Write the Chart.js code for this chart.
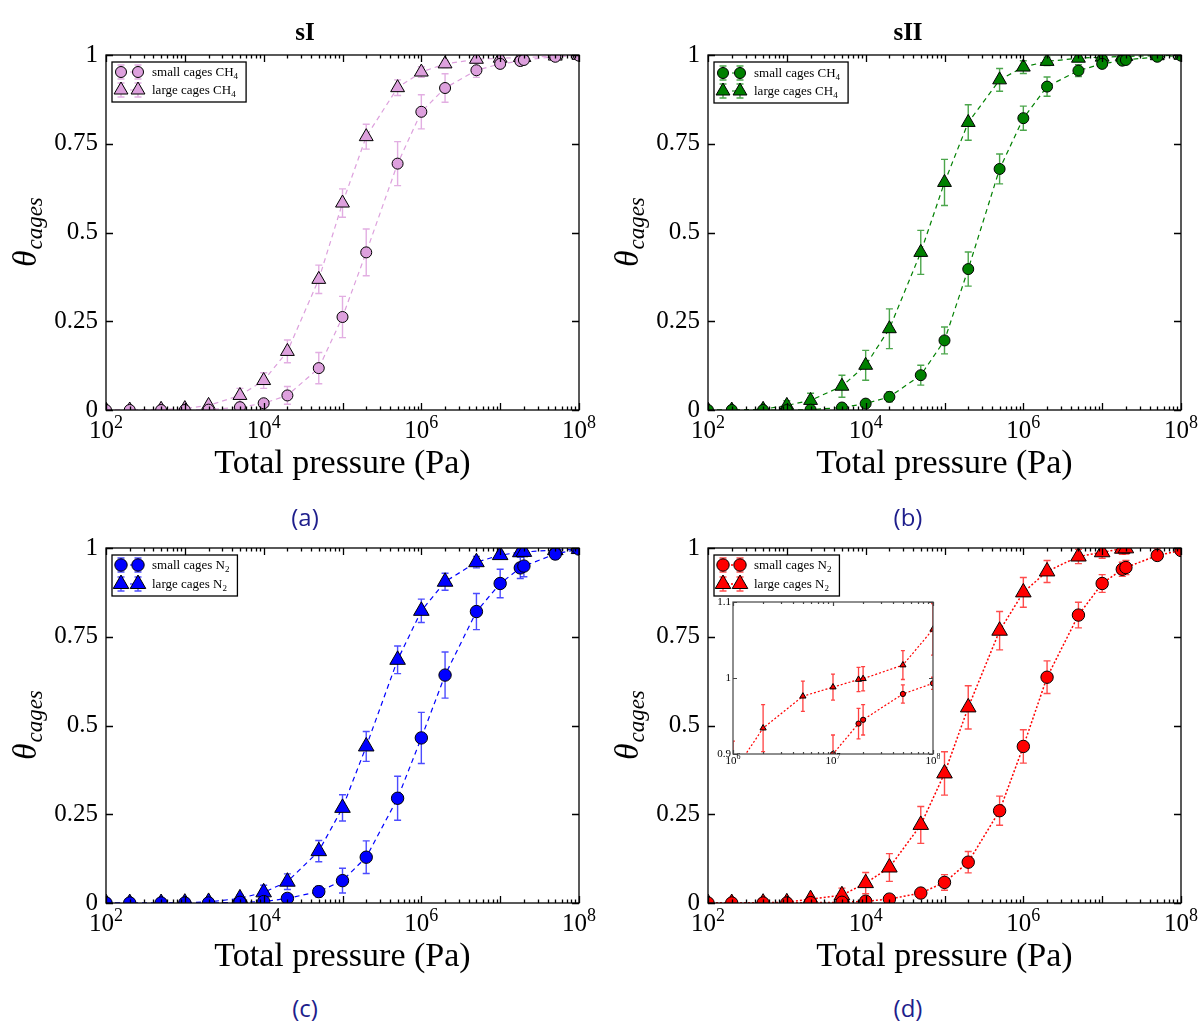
<!DOCTYPE html>
<html>
<head>
<meta charset="utf-8">
<title>Cage occupancy vs total pressure</title>
<script src="https://cdn.jsdelivr.net/npm/chart.js"></script>
<style>
  body { margin: 0; background: #fff; }
  #fig { position: relative; width: 1201px; height: 1021px; background: #fff; overflow: hidden; }
  #fig canvas { position: absolute; }
  .title { position: absolute; font: bold 25px "Liberation Serif", serif; color: #000; transform: translate(-50%, -50%); white-space: nowrap; }
  .caption { position: absolute; font: 24px "Open Sans", sans-serif; color: #1e1e8c; transform: translate(-50%, -50%); white-space: nowrap; }
</style>
</head>
<body>
<div id="fig">
  <canvas id="chartA" width="600" height="490" style="left:0;top:0"></canvas>
  <canvas id="chartB" width="600" height="490" style="left:602px;top:0"></canvas>
  <canvas id="chartC" width="600" height="490" style="left:0;top:493px"></canvas>
  <canvas id="chartD" width="600" height="490" style="left:602px;top:493px"></canvas>
  <canvas id="chartInset" width="240" height="180" style="left:700px;top:590px"></canvas>
  <div class="title" style="left:305px;top:32px">sI</div>
  <div class="title" style="left:908px;top:32px">sII</div>
  <div class="caption" style="left:305px;top:516px">(a)</div>
  <div class="caption" style="left:908px;top:516px">(b)</div>
  <div class="caption" style="left:305px;top:1007px">(c)</div>
  <div class="caption" style="left:908px;top:1007px">(d)</div>
</div>
<script>
// Total pressure (Pa), shared by every panel
const pressure = [1e2, 2e2, 5e2, 1e3, 2e3, 5e3, 1e4, 2e4, 5e4, 1e5, 2e5, 5e5,
                  1e6, 2e6, 5e6, 1e7, 1.8e7, 2e7, 5e7, 1e8];

// (a) sI, CH4
const sISmallCH4 = [0, 0, 0, 0, 0.001, 0.008, 0.019, 0.041, 0.118, 0.262, 0.444, 0.694,
                    0.840, 0.907, 0.957, 0.975, 0.983, 0.986, 0.995, 0.998];
const sISmallCH4Err = [0, 0, 0, 0, 0.002, 0.006, 0.01, 0.025, 0.044, 0.058, 0.066, 0.062,
                       0.048, 0.04, 0.02, 0.012, 0.008, 0.008, 0.004, 0.002];
const sILargeCH4 = [0, 0, 0.002, 0.004, 0.013, 0.041, 0.083, 0.165, 0.368, 0.583, 0.770, 0.908,
                    0.952, 0.975, 0.988, 0.991, 0.993, 0.993, 0.997, 0.999];
const sILargeCH4Err = [0, 0, 0.002, 0.003, 0.006, 0.02, 0.022, 0.032, 0.04, 0.04, 0.035, 0.022,
                       0.015, 0.01, 0.006, 0.005, 0.004, 0.004, 0.003, 0.002];

// (b) sII, CH4
const sIISmallCH4 = [0, 0, 0, 0, 0.001, 0.007, 0.018, 0.037, 0.098, 0.196, 0.397, 0.679,
                     0.822, 0.911, 0.956, 0.975, 0.984, 0.986, 0.995, 0.998];
const sIISmallCH4Err = [0, 0, 0, 0, 0.002, 0.005, 0.008, 0.014, 0.028, 0.038, 0.048, 0.042,
                        0.034, 0.027, 0.017, 0.01, 0.007, 0.007, 0.004, 0.002];
const sIILargeCH4 = [0, 0, 0.002, 0.013, 0.027, 0.067, 0.126, 0.229, 0.444, 0.641, 0.810, 0.930,
                     0.966, 0.982, 0.991, 0.994, 0.996, 0.996, 0.998, 0.999];
const sIILargeCH4Err = [0, 0.001, 0.003, 0.013, 0.02, 0.031, 0.042, 0.056, 0.062, 0.065, 0.05, 0.032,
                        0.018, 0.012, 0.008, 0.006, 0.005, 0.005, 0.003, 0.002];

// (c) sI, N2
const sISmallN2 = [0, 0, 0, 0, 0, 0.002, 0.004, 0.013, 0.032, 0.063, 0.129, 0.295,
                   0.465, 0.642, 0.821, 0.900, 0.944, 0.949, 0.983, 0.997];
const sISmallN2Err = [0, 0, 0, 0, 0, 0.002, 0.004, 0.008, 0.015, 0.035, 0.046, 0.062,
                      0.072, 0.065, 0.051, 0.04, 0.03, 0.03, 0.015, 0.005];
const sILargeN2 = [0, 0, 0, 0.001, 0.003, 0.013, 0.030, 0.060, 0.146, 0.268, 0.441, 0.685,
                   0.823, 0.905, 0.960, 0.980, 0.988, 0.989, 0.994, 0.997];
const sILargeN2Err = [0, 0, 0, 0.002, 0.004, 0.01, 0.02, 0.022, 0.03, 0.037, 0.042, 0.039,
                      0.033, 0.024, 0.016, 0.01, 0.008, 0.008, 0.005, 0.003];

// (d) sII, N2 (inset shows the same data between 1e6 and 1e8)
const sIISmallN2 = [0, 0, 0, 0, 0.001, 0.002, 0.005, 0.011, 0.028, 0.058, 0.115, 0.260,
                    0.441, 0.636, 0.811, 0.900, 0.940, 0.945, 0.979, 0.993];
const sIISmallN2Err = [0, 0, 0, 0, 0.001, 0.002, 0.004, 0.008, 0.012, 0.022, 0.03, 0.041,
                       0.047, 0.046, 0.036, 0.025, 0.02, 0.02, 0.012, 0.008];
const sIILargeN2 = [0, 0, 0.001, 0.002, 0.011, 0.022, 0.056, 0.100, 0.220, 0.365, 0.551, 0.767,
                    0.875, 0.934, 0.976, 0.988, 0.998, 0.999, 1.017, 1.064];
const sIILargeN2Err = [0, 0, 0.001, 0.003, 0.008, 0.02, 0.03, 0.039, 0.052, 0.061, 0.061, 0.054,
                       0.042, 0.031, 0.02, 0.017, 0.016, 0.016, 0.019, 0.034];

const yTicks = [0, 0.25, 0.5, 0.75, 1];
const yTicksInset = [0.9, 1, 1.1];

const SERIF = '"Liberation Serif", "DejaVu Serif", serif';

function points(ys) {
    return pressure.map((p, i) => ({ x: p, y: ys[i] }));
}

// circle / triangle marker, same shapes as the datasets use
function drawMarker(ctx, style, x, y, r) {
    ctx.beginPath();
    if (style === 'triangle') {
        for (let k = 0; k < 3; k++) {
            const a = k * 2 * Math.PI / 3;
            const px = x + Math.sin(a) * r, py = y - Math.cos(a) * r;
            if (k === 0) ctx.moveTo(px, py); else ctx.lineTo(px, py);
        }
        ctx.closePath();
    } else {
        ctx.arc(x, y, r, 0, 2 * Math.PI);
    }
    ctx.fill();
    ctx.stroke();
}

// "10" with a raised exponent
function drawPower(ctx, x, baseline, exp, size) {
    const supSize = Math.round(size * 0.7);
    ctx.font = size + 'px ' + SERIF;
    const wBase = ctx.measureText('10').width;
    ctx.font = supSize + 'px ' + SERIF;
    const wSup = ctx.measureText(String(exp)).width;
    const left = x - (wBase + wSup) / 2;
    ctx.textAlign = 'left';
    ctx.textBaseline = 'alphabetic';
    ctx.font = size + 'px ' + SERIF;
    ctx.fillText('10', left, baseline);
    ctx.font = supSize + 'px ' + SERIF;
    ctx.fillText(String(exp), left + wBase, baseline - size * 0.42);
}

// frame, inward ticks, error bars, tick labels, y title and legend
const framePlugin = {
    id: 'frame',
    beforeDraw(chart, args, opts) {
        const a = chart.chartArea;
        if (opts.fill) {
            const ctx = chart.ctx;
            ctx.save();
            ctx.fillStyle = '#fff';
            ctx.fillRect(a.left, a.top, a.right - a.left, a.bottom - a.top);
            ctx.restore();
        }
    },
    beforeDatasetsDraw(chart, args, opts) {
        const { ctx, chartArea: a, scales: { x, y } } = chart;
        ctx.save();
        ctx.beginPath();
        ctx.rect(a.left, a.top, a.right - a.left, a.bottom - a.top);
        ctx.clip();
        chart.data.datasets.forEach(ds => {
            if (!ds.errors) return;
            ctx.strokeStyle = ds.errorColor;
            ctx.lineWidth = opts.errWidth;
            ctx.setLineDash([]);
            ds.data.forEach((p, i) => {
                const e = ds.errors[i];
                if (!e) return;
                const px = x.getPixelForValue(p.x);
                const y1 = y.getPixelForValue(p.y - e);
                const y2 = y.getPixelForValue(p.y + e);
                ctx.beginPath();
                ctx.moveTo(px, y1); ctx.lineTo(px, y2);
                ctx.moveTo(px - opts.cap, y1); ctx.lineTo(px + opts.cap, y1);
                ctx.moveTo(px - opts.cap, y2); ctx.lineTo(px + opts.cap, y2);
                ctx.stroke();
            });
        });
        ctx.restore();
    },
    afterDraw(chart, args, opts) {
        const { ctx, chartArea: a, scales: { x, y } } = chart;
        ctx.save();
        ctx.strokeStyle = opts.frameColor;
        ctx.lineWidth = opts.frameWidth;
        ctx.setLineDash([]);

        // y ticks on both sides
        opts.yTicks.forEach(v => {
            const py = Math.round(y.getPixelForValue(v)) + 0.5;
            ctx.beginPath();
            ctx.moveTo(a.left, py); ctx.lineTo(a.left + opts.major, py);
            ctx.moveTo(a.right, py); ctx.lineTo(a.right - opts.major, py);
            ctx.stroke();
        });

        // log x ticks, top and bottom
        const e0 = Math.round(Math.log10(x.min)), e1 = Math.round(Math.log10(x.max));
        for (let e = e0; e <= e1; e++) {
            for (let k = 1; k <= 9; k++) {
                const v = k * Math.pow(10, e);
                if (v > x.max * 1.0001) break;
                const px = Math.round(x.getPixelForValue(v)) + 0.5;
                const len = k === 1 ? opts.major : opts.minor;
                ctx.beginPath();
                ctx.moveTo(px, a.bottom); ctx.lineTo(px, a.bottom - len);
                ctx.moveTo(px, a.top); ctx.lineTo(px, a.top + len);
                ctx.stroke();
            }
        }

        // frame
        ctx.strokeRect(a.left, a.top, a.right - a.left, a.bottom - a.top);

        // x tick labels
        ctx.fillStyle = '#000';
        for (let e = e0; e <= e1; e += opts.labelStep) {
            drawPower(ctx, x.getPixelForValue(Math.pow(10, e)), a.bottom + opts.labelDrop, e, opts.labelSize);
        }

        // y title: theta with subscript
        if (opts.yTitle) {
            ctx.save();
            ctx.translate(opts.yTitleX, (a.top + a.bottom) / 2);
            ctx.rotate(-Math.PI / 2);
            ctx.font = 'italic 33px ' + SERIF;
            const w1 = ctx.measureText('θ').width;
            ctx.font = 'italic 23px ' + SERIF;
            const w2 = ctx.measureText('cages').width;
            const start = -(w1 + w2) / 2;
            ctx.textAlign = 'left';
            ctx.textBaseline = 'alphabetic';
            ctx.font = 'italic 33px ' + SERIF;
            ctx.fillText('θ', start, 8);
            ctx.font = 'italic 23px ' + SERIF;
            ctx.fillText('cages', start + w1 + 1, 14);
            ctx.restore();
        }

        // legend
        if (opts.legend) {
            const L = opts.legend;
            const bx = a.left + L.dx, by = a.top + L.dy;
            let textW = 0;
            L.rows.forEach(r => {
                ctx.font = '13px ' + SERIF;
                let w = ctx.measureText(r.text[0]).width;
                ctx.font = '9px ' + SERIF;
                w += ctx.measureText(r.text[1]).width;
                textW = Math.max(textW, w);
            });
            const bw = L.textX + textW + 8;
            ctx.fillStyle = '#fff';
            ctx.fillRect(bx, by, bw, L.h);
            ctx.strokeStyle = '#000';
            ctx.lineWidth = 1.3;
            ctx.strokeRect(bx, by, bw, L.h);
            L.rows.forEach((r, i) => {
                const ds = chart.data.datasets[r.ds];
                const ry = by + L.rowY[i];
                const m1 = bx + L.m1, m2 = bx + L.m2;
                ctx.strokeStyle = ds.borderColor;
                ctx.lineWidth = ds.borderWidth;
                ctx.setLineDash(ds.borderDash);
                ctx.beginPath(); ctx.moveTo(m1, ry); ctx.lineTo(m2, ry); ctx.stroke();
                ctx.setLineDash([]);
                ctx.strokeStyle = ds.errorColor;
                ctx.lineWidth = opts.errWidth;
                [m1, m2].forEach(mx => {
                    ctx.beginPath();
                    ctx.moveTo(mx, ry - 7); ctx.lineTo(mx, ry + 7);
                    ctx.moveTo(mx - opts.cap, ry - 7); ctx.lineTo(mx + opts.cap, ry - 7);
                    ctx.moveTo(mx - opts.cap, ry + 7); ctx.lineTo(mx + opts.cap, ry + 7);
                    ctx.stroke();
                });
                ctx.fillStyle = ds.pointBackgroundColor;
                ctx.strokeStyle = '#000';
                ctx.lineWidth = 1;
                drawMarker(ctx, ds.pointStyle, m1, ry, ds.pointRadius);
                drawMarker(ctx, ds.pointStyle, m2, ry, ds.pointRadius);
                ctx.fillStyle = '#000';
                ctx.textAlign = 'left';
                ctx.textBaseline = 'alphabetic';
                ctx.font = '13px ' + SERIF;
                const tx = bx + L.textX;
                ctx.fillText(r.text[0], tx, ry + 4);
                const w = ctx.measureText(r.text[0]).width;
                ctx.font = '9px ' + SERIF;
                ctx.fillText(r.text[1], tx + w, ry + 7);
            });
        }
        ctx.restore();
    }
};

function makeChart(id, cfg) {
    const common = {
        showLine: true,
        borderColor: cfg.color,
        borderWidth: cfg.lineWidth,
        borderDash: cfg.dash,
        pointBackgroundColor: cfg.color,
        pointBorderColor: '#000',
        pointBorderWidth: 1,
        pointHoverRadius: 0,
        errorColor: cfg.errorColor,
        tension: 0,
        clip: 0
    };
    return new Chart(document.getElementById(id), {
        type: 'scatter',
        data: {
            datasets: [
                Object.assign({}, common, {
                    label: 'small cages ' + cfg.gas,
                    data: points(cfg.small),
                    errors: cfg.smallErr,
                    pointStyle: 'circle',
                    pointRadius: cfg.rCircle
                }),
                Object.assign({}, common, {
                    label: 'large cages ' + cfg.gas,
                    data: points(cfg.large),
                    errors: cfg.largeErr,
                    pointStyle: 'triangle',
                    pointRadius: cfg.rTriangle
                })
            ]
        },
        options: {
            responsive: false,
            animation: false,
            events: [],
            layout: { padding: cfg.padding },
            plugins: {
                legend: { display: false },
                tooltip: { enabled: false },
                frame: cfg.frame
            },
            scales: {
                x: {
                    type: 'logarithmic',
                    min: cfg.xMin,
                    max: cfg.xMax,
                    ticks: { display: false },
                    grid: { display: false, drawTicks: false },
                    border: { display: false },
                    title: {
                        display: !!cfg.xTitle,
                        text: cfg.xTitle || '',
                        color: '#000',
                        font: { family: SERIF, size: 34 },
                        padding: 0
                    },
                    afterFit: s => { s.height = cfg.xHeight; }
                },
                y: {
                    min: cfg.yMin,
                    max: cfg.yMax,
                    ticks: {
                        stepSize: cfg.yStep,
                        color: '#000',
                        padding: cfg.yPad,
                        font: { family: SERIF, size: cfg.yFont },
                        callback: v => String(Number(v.toFixed(2)))
                    },
                    grid: { display: false, drawTicks: false },
                    border: { display: false },
                    afterFit: s => { s.width = cfg.yWidth; }
                }
            }
        },
        plugins: [framePlugin]
    });
}

function mainPanel(id, gas, sub, color, errorColor, dash, lineWidth, small, smallErr, large, largeErr, rC, rT, legendH, rowY) {
    return makeChart(id, {
        gas: gas, color: color, errorColor: errorColor, dash: dash, lineWidth: lineWidth,
        small: small, smallErr: smallErr, large: large, largeErr: largeErr,
        rCircle: rC, rTriangle: rT,
        xMin: 1e2, xMax: 1e8, yMin: 0, yMax: 1, yStep: 0.25, yPad: 8, yFont: 25,
        xTitle: 'Total pressure (Pa)',
        padding: { left: 0, top: 55, right: 21, bottom: 6 },
        xHeight: 74, yWidth: 106,
        frame: {
            yTicks: yTicks, major: 7, minor: 3.5, frameColor: '#000', frameWidth: 1.3,
            labelStep: 2, labelSize: 25, labelDrop: 28,
            errWidth: 1.4, cap: 3.5,
            yTitle: true, yTitleX: 28,
            legend: {
                dx: 6, dy: 7, h: legendH, m1: 9, m2: 26, textX: 40, rowY: rowY,
                rows: [
                    { ds: 0, text: ['small cages ' + gas, sub] },
                    { ds: 1, text: ['large cages ' + gas, sub] }
                ]
            }
        }
    });
}

mainPanel('chartA', 'CH', '4', '#dda0dd', 'rgba(221,160,221,0.85)', [5, 4], 1.2,
          sISmallCH4, sISmallCH4Err, sILargeCH4, sILargeCH4Err, 5.5, 8, 40, [10, 28]);
mainPanel('chartB', 'CH', '4', '#008000', 'rgba(0,128,0,0.7)', [5, 4], 1.2,
          sIISmallCH4, sIISmallCH4Err, sIILargeCH4, sIILargeCH4Err, 5.5, 8, 41, [11, 29]);
mainPanel('chartC', 'N', '2', '#0000ff', 'rgba(0,0,255,0.7)', [5, 4], 1.2,
          sISmallN2, sISmallN2Err, sILargeN2, sILargeN2Err, 6.2, 9, 41, [10, 29]);
mainPanel('chartD', 'N', '2', '#ff0000', 'rgba(255,0,0,0.7)', [2, 2], 1.5,
          sIISmallN2, sIISmallN2Err, sIILargeN2, sIILargeN2Err, 6.2, 9, 41, [10, 29]);

// inset of panel (d)
makeChart('chartInset', {
    gas: 'N2', color: '#ff0000', errorColor: 'rgba(255,0,0,0.75)', dash: [2, 2], lineWidth: 1.2,
    small: sIISmallN2, smallErr: sIISmallN2Err, large: sIILargeN2, largeErr: sIILargeN2Err,
    rCircle: 2.6, rTriangle: 3.6,
    xMin: 1e6, xMax: 1e8, yMin: 0.9, yMax: 1.1, yStep: 0.1, yPad: 2, yFont: 11,
    xTitle: null,
    padding: { left: 0, top: 12, right: 7, bottom: 0 },
    xHeight: 16, yWidth: 33,
    frame: {
        fill: true, yTicks: yTicksInset, major: 4, minor: 2, frameColor: '#444', frameWidth: 1.2,
        labelStep: 1, labelSize: 11, labelDrop: 10,
        errWidth: 1.3, cap: 2,
        yTitle: false, legend: null
    }
});
</script>
</body>
</html>
